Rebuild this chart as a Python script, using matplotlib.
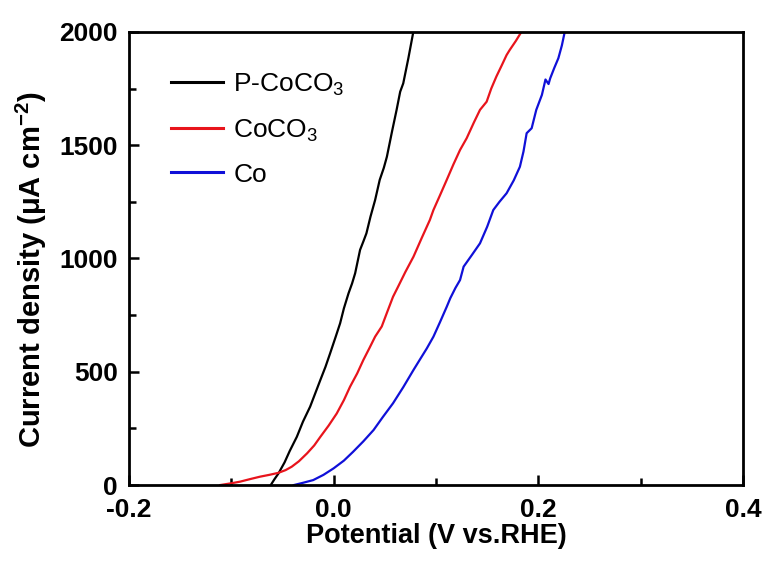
import matplotlib
matplotlib.use("Agg")
import matplotlib.pyplot as plt
from matplotlib.ticker import MultipleLocator

plt.rcParams['font.family'] = ['Liberation Sans', 'DejaVu Sans']
plt.rcParams['mathtext.fontset'] = 'custom'
plt.rcParams['mathtext.rm'] = 'Liberation Sans'
plt.rcParams['mathtext.bf'] = 'Liberation Sans:bold'

# LSV curves: potential (V vs. RHE) and current density (uA cm^-2)
p_coco3_v = [-0.0615, -0.058, -0.054, -0.048, -0.043, -0.036, -0.030, -0.023,
             -0.018, -0.013, -0.008, -0.0035, 0.002, 0.0063, 0.010, 0.0145,
             0.018, 0.021, 0.0258, 0.029, 0.032, 0.036, 0.0405, 0.045,
             0.049, 0.052, 0.057, 0.0615, 0.065, 0.068, 0.073, 0.078]
p_coco3_j = [0, 25, 51, 100, 150, 213, 280, 346,
             405, 464, 522, 581, 655, 714, 780, 846,
             890, 935, 1038, 1075, 1111, 1185, 1258, 1347,
             1400, 1449, 1560, 1656, 1736, 1773, 1884, 2004]

coco3_v = [-0.111, -0.100, -0.0915, -0.082, -0.072, -0.063, -0.054, -0.047,
           -0.041, -0.034, -0.026, -0.019, -0.013, -0.005, 0.003, 0.010,
           0.016, 0.023, 0.029, 0.035, 0.0405, 0.047, 0.052, 0.058,
           0.063, 0.070, 0.078, 0.086, 0.094, 0.0975, 0.104, 0.1105,
           0.117, 0.1235, 0.130, 0.137, 0.143, 0.1495, 0.154, 0.159,
           0.164, 0.169, 0.172, 0.178, 0.184]
coco3_j = [0, 8, 15, 26, 37, 45, 54, 66,
           81, 105, 140, 175, 213, 262, 316, 375,
           434, 493, 552, 605, 655, 700, 760, 831,
           876, 940, 1008, 1090, 1170, 1214, 1280, 1347,
           1415, 1479, 1531, 1600, 1656, 1692, 1750, 1803,
           1850, 1898, 1920, 1960, 2004]

co_v = [-0.039, -0.030, -0.020, -0.010, 0.0, 0.010, 0.019, 0.029,
        0.039, 0.048, 0.058, 0.068, 0.078, 0.084, 0.091, 0.0975,
        0.104, 0.1105, 0.114, 0.119, 0.1235, 0.127, 0.135, 0.143,
        0.150, 0.156, 0.162, 0.169, 0.176, 0.182, 0.1855, 0.1886,
        0.1935, 0.198, 0.2035, 0.207, 0.210, 0.2116, 0.2155, 0.2196,
        0.223, 0.226]
co_j = [0, 10, 22, 45, 74, 108, 147, 193,
        243, 300, 361, 432, 508, 552, 603, 655,
        720, 787, 825, 870, 905, 964, 1015, 1067,
        1140, 1214, 1250, 1288, 1345, 1405, 1472, 1553,
        1575, 1656, 1722, 1790, 1770, 1795, 1840, 1884,
        1940, 2004]

series = [
    (p_coco3_v, p_coco3_j, 'black', r'P-CoCO$_\mathregular{3}$'),
    (coco3_v, coco3_j, '#e8141c', r'CoCO$_\mathregular{3}$'),
    (co_v, co_j, '#1010d8', 'Co'),
]

fig = plt.figure(figsize=(7.68, 5.70), dpi=100)
ax = fig.add_axes([0.168, 0.149, 0.7994, 0.795])

for v, j, c, lab in series:
    ax.plot(v, j, color=c, lw=1.6, label=lab)

ax.set_xlim(-0.2, 0.4)
ax.set_ylim(0, 2000)
ax.xaxis.set_minor_locator(MultipleLocator(0.1))
ax.yaxis.set_major_locator(MultipleLocator(500))
ax.yaxis.set_minor_locator(MultipleLocator(250))
ax.set_xticks([-0.2, 0.0, 0.2, 0.4])
ax.set_xticklabels(['-0.2', '0.0', '0.2', '0.4'])

ax.tick_params(which='both', direction='in', top=False, right=False,
               width=1.8, labelsize=19)
ax.tick_params(axis='x', pad=9)
ax.tick_params(axis='y', pad=8)
ax.tick_params(which='major', length=7)
ax.tick_params(which='minor', length=5)
for lbl in ax.get_xticklabels() + ax.get_yticklabels():
    lbl.set_fontweight('bold')
for s in ax.spines.values():
    s.set_linewidth(2.0)

ax.set_xlabel('Potential (V vs.RHE)', fontsize=19.5, fontweight='bold', labelpad=1)
ax.set_ylabel(r'Current density ($\mathregular{\mu}$A cm$^{\mathregular{-2}}$)',
              fontsize=21, fontweight='bold')
ax.yaxis.set_label_coords(-0.13, 0.475)

leg = ax.legend(loc='upper left', bbox_to_anchor=(0.03, 0.965), frameon=False,
                fontsize=19, handlelength=1.95, handletextpad=0.4,
                labelspacing=0.72)
for line in leg.get_lines():
    line.set_linewidth(2.2)

fig.savefig('out.png', dpi=100)
